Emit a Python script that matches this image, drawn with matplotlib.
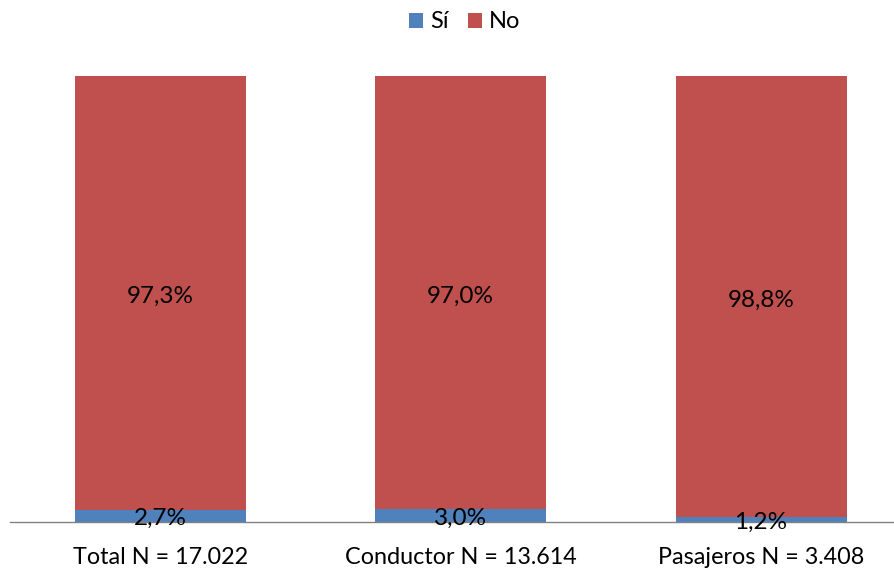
import matplotlib
matplotlib.use("Agg")
import matplotlib.pyplot as plt

categories = ["Total N = 17.022", "Conductor N = 13.614", "Pasajeros N = 3.408"]
si_values = [2.7, 3.0, 1.2]
no_values = [97.3, 97.0, 98.8]
series_names = ["Sí", "No"]

plt.rcParams['font.family'] = ['Lato', 'DejaVu Sans']

W, H = 894, 570
fig = plt.figure(figsize=(W/100, H/100), dpi=100)
ax = fig.add_axes([10/W, (H-522)/H, (W-10)/W, (522-76)/H])

blue = "#4F81BD"
red = "#C0504D"
x = list(range(len(categories)))
width = 171/300.5
b1 = ax.bar(x, si_values, width, color=blue, label=series_names[0])
b2 = ax.bar(x, no_values, width, bottom=si_values, color=red, label=series_names[1])

for i in x:
    ax.text(i, si_values[i]/2 - 0.6, f"{si_values[i]:.1f}%".replace('.', ','),
            ha='center', va='center', fontsize=17.5, color='black')
    ax.text(i, si_values[i] + no_values[i]/2 - 0.8, f"{no_values[i]:.1f}%".replace('.', ','),
            ha='center', va='center', fontsize=17.5, color='black')

ax.set_xlim(-0.5, (894-160)/300.5)
ax.set_ylim(0, 100)
ax.set_xticks(x)
ax.set_xticklabels(categories, fontsize=16.8)
ax.tick_params(axis='x', length=0, pad=18)
ax.set_yticks([])
for s in ['top', 'right', 'left']:
    ax.spines[s].set_visible(False)
ax.spines['bottom'].set_color('#808080')
ax.spines['bottom'].set_linewidth(1)

fig.legend(handles=[b1, b2], labels=series_names, loc='center', bbox_to_anchor=(0.52, 1 - 22/H),
           ncol=2, frameon=False, fontsize=17, handlelength=0.6, handleheight=0.6,
           handletextpad=0.3, columnspacing=0.8)

fig.savefig("out.png", dpi=100)
